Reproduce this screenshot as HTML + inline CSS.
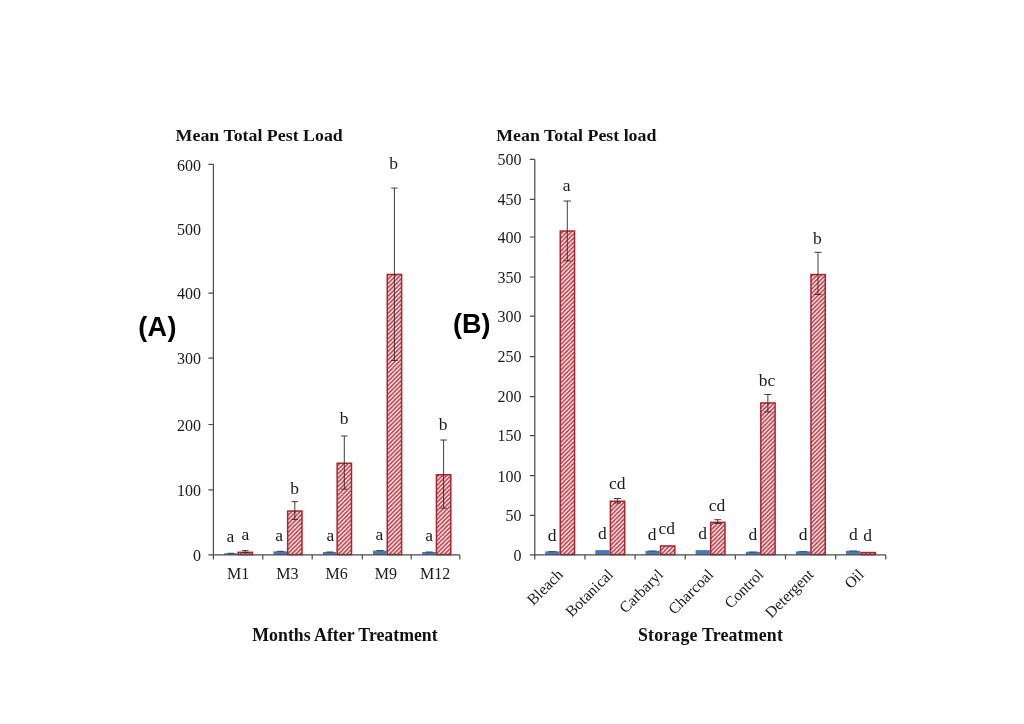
<!DOCTYPE html>
<html lang="en">
<head>
<meta charset="utf-8">
<title>Mean Total Pest Load</title>
<style>
html,body{margin:0;padding:0;background:#fff;}
body{width:1024px;height:724px;overflow:hidden;}
svg{display:block;filter:blur(0.35px);}
.s{font-family:"Liberation Serif",serif;font-size:16px;fill:#1a1a1a;}
.l{font-family:"Liberation Serif",serif;font-size:17.5px;fill:#1a1a1a;}
.t{font-family:"Liberation Serif",serif;font-weight:bold;font-size:17.8px;fill:#111;}
.p{font-family:"Liberation Sans",sans-serif;font-weight:bold;font-size:27px;letter-spacing:0.4px;fill:#000;}
.ax{stroke:#4a4a4a;stroke-width:1.2;fill:none;}
.eb{stroke:#2a2a2a;stroke-width:0.9;fill:none;}
.rb{fill:url(#h);stroke:#a92430;stroke-width:1.5;}
.bb{fill:#4a7ab5;}
</style>
</head>
<body>
<svg width="1024" height="724" viewBox="0 0 1024 724">
<defs>
<pattern id="h" width="4.25" height="4.25" patternUnits="userSpaceOnUse">
<rect width="4.25" height="4.25" fill="#fff3f3"/>
<path d="M-1,1 L1,-1 M0,4.25 L4.25,0 M3.25,5.25 L5.25,3.25" stroke="#bf3440" stroke-width="1.55"/>
</pattern>
</defs>
<rect width="1024" height="724" fill="#ffffff"/>

<!-- Chart A -->
<text class="t" transform="translate(175.6,140.6) scale(1.07,1)" style="font-size:16.7px">Mean Total Pest Load</text>
<text class="p" x="138.2" y="336.3">(A)</text>
<text class="s" x="200.9" y="561.1" text-anchor="end">0</text>
<text class="s" x="200.9" y="496.1" text-anchor="end">100</text>
<text class="s" x="200.9" y="430.7" text-anchor="end">200</text>
<text class="s" x="200.9" y="364.4" text-anchor="end">300</text>
<text class="s" x="200.9" y="299.4" text-anchor="end">400</text>
<text class="s" x="200.9" y="234.8" text-anchor="end">500</text>
<text class="s" x="200.9" y="170.5" text-anchor="end">600</text>
<rect class="bb" x="223.9" y="553.3" width="13.6" height="1.6"/>
<path class="eb" d="M227.4,553.3 H234.4"/>
<rect class="rb" x="238.15" y="552.35" width="14.35" height="2.2"/>
<path class="eb" d="M245.3,550.6 V552.6 M242.05,550.6 H248.55 M242.05,552.6 H248.55"/>
<rect class="bb" x="273.4" y="551.3" width="13.6" height="3.6"/>
<path class="eb" d="M276.9,551.3 H283.9"/>
<rect class="rb" x="287.65" y="511.05" width="14.35" height="43.5"/>
<path class="eb" d="M294.8,501.6 V519.5 M291.55,501.6 H298.05 M291.55,519.5 H298.05"/>
<rect class="bb" x="322.9" y="552" width="13.6" height="2.9"/>
<path class="eb" d="M326.4,552 H333.4"/>
<rect class="rb" x="337.15" y="463.25" width="14.35" height="91.3"/>
<path class="eb" d="M344.3,436 V489.2 M341.05,436 H347.55 M341.05,489.2 H347.55"/>
<rect class="bb" x="373" y="550.6" width="13.6" height="4.3"/>
<path class="eb" d="M376.5,550.6 H383.5"/>
<rect class="rb" x="387.25" y="274.45" width="14.35" height="280.1"/>
<path class="eb" d="M394.4,188.1 V360.5 M391.15,188.1 H397.65 M391.15,360.5 H397.65"/>
<rect class="bb" x="422.2" y="552" width="13.6" height="2.9"/>
<path class="eb" d="M425.7,552 H432.7"/>
<rect class="rb" x="436.45" y="474.75" width="14.35" height="79.8"/>
<path class="eb" d="M443.6,440 V508.2 M440.35,440 H446.85 M440.35,508.2 H446.85"/>
<path class="ax" d="M213.4,164.3 V559.5 M208.4,554.9 H459.8 M208.4,489.9 H213.4 M208.4,424.5 H213.4 M208.4,358.2 H213.4 M208.4,293.2 H213.4 M208.4,164.3 H213.4 M262.8,554.9 V559.5 M312.2,554.9 V559.5 M362.3,554.9 V559.5 M411.2,554.9 V559.5 M459.8,554.9 V559.5"/>
<text class="s" x="238.03" y="578.7" text-anchor="middle">M1</text>
<text class="s" x="287.29" y="578.7" text-anchor="middle">M3</text>
<text class="s" x="336.55" y="578.7" text-anchor="middle">M6</text>
<text class="s" x="385.81" y="578.7" text-anchor="middle">M9</text>
<text class="s" x="435.07" y="578.7" text-anchor="middle">M12</text>
<text class="l" x="230.3" y="541.8" text-anchor="middle">a</text>
<text class="l" x="245.3" y="540.2" text-anchor="middle">a</text>
<text class="l" x="279.2" y="541.3" text-anchor="middle">a</text>
<text class="l" x="294.7" y="494.1" text-anchor="middle">b</text>
<text class="l" x="330.5" y="541.3" text-anchor="middle">a</text>
<text class="l" x="344.2" y="423.6" text-anchor="middle">b</text>
<text class="l" x="379.5" y="540.2" text-anchor="middle">a</text>
<text class="l" x="393.6" y="169.4" text-anchor="middle">b</text>
<text class="l" x="429.2" y="541.3" text-anchor="middle">a</text>
<text class="l" x="443" y="430.3" text-anchor="middle">b</text>
<text class="t" x="345" y="641.2" text-anchor="middle">Months After Treatment</text>
<!-- Chart B -->
<text class="t" transform="translate(496.2,140.6) scale(1.07,1)" style="font-size:16.7px">Mean Total Pest load</text>
<text class="p" x="453" y="332.8" style="letter-spacing:0">(B)</text>
<text class="s" x="521.4" y="560.7" text-anchor="end">0</text>
<text class="s" x="521.4" y="521.2" text-anchor="end">50</text>
<text class="s" x="521.4" y="481.5" text-anchor="end">100</text>
<text class="s" x="521.4" y="441.4" text-anchor="end">150</text>
<text class="s" x="521.4" y="402.4" text-anchor="end">200</text>
<text class="s" x="521.4" y="362.4" text-anchor="end">250</text>
<text class="s" x="521.4" y="322" text-anchor="end">300</text>
<text class="s" x="521.4" y="282.8" text-anchor="end">350</text>
<text class="s" x="521.4" y="242.8" text-anchor="end">400</text>
<text class="s" x="521.4" y="205.1" text-anchor="end">450</text>
<text class="s" x="521.4" y="165.2" text-anchor="end">500</text>
<rect class="bb" x="545.2" y="551.4" width="14.2" height="3.5"/>
<path class="eb" style="stroke:#26344d;stroke-width:0.8" d="M548.3,551.6 H556.3"/>
<rect class="rb" x="560.25" y="231.05" width="14.3" height="323.5"/>
<path class="eb" d="M567.3,201 V260.9 M563.55,201 H571.05 M563.55,260.9 H571.05"/>
<rect class="bb" x="595.34" y="550.1" width="14.2" height="4.8"/>
<rect class="rb" x="610.39" y="501.25" width="14.3" height="53.3"/>
<path class="eb" d="M617.44,498.5 V503 M613.94,498.5 H620.94 M613.94,503 H620.94"/>
<rect class="bb" x="645.49" y="550.8" width="14.2" height="4.1"/>
<path class="eb" style="stroke:#26344d;stroke-width:0.8" d="M648.59,551 H656.59"/>
<rect class="rb" x="660.54" y="545.95" width="14.3" height="8.6"/>
<rect class="bb" x="695.63" y="550.1" width="14.2" height="4.8"/>
<rect class="rb" x="710.68" y="522.35" width="14.3" height="32.2"/>
<path class="eb" d="M717.73,519.7 V523.5 M714.23,519.7 H721.23 M714.23,523.5 H721.23"/>
<rect class="bb" x="745.77" y="551.8" width="14.2" height="3.1"/>
<path class="eb" style="stroke:#26344d;stroke-width:0.8" d="M748.87,552 H756.87"/>
<rect class="rb" x="760.82" y="402.95" width="14.3" height="151.6"/>
<path class="eb" d="M767.87,394.5 V411.9 M764.37,394.5 H771.37 M764.37,411.9 H771.37"/>
<rect class="bb" x="795.91" y="551.4" width="14.2" height="3.5"/>
<path class="eb" style="stroke:#26344d;stroke-width:0.8" d="M799.01,551.6 H807.01"/>
<rect class="rb" x="810.96" y="274.55" width="14.3" height="280"/>
<path class="eb" d="M818.01,252.3 V294.5 M814.51,252.3 H821.51 M814.51,294.5 H821.51"/>
<rect class="bb" x="846.06" y="550.8" width="14.2" height="4.1"/>
<path class="eb" style="stroke:#26344d;stroke-width:0.8" d="M849.16,551 H857.16"/>
<rect class="rb" x="861.11" y="552.55" width="14.3" height="2"/>
<path class="ax" d="M534.8,159.6 V559.5 M529.8,554.9 H885.8 M529.8,515.4 H534.8 M529.8,475.7 H534.8 M529.8,435.6 H534.8 M529.8,396.6 H534.8 M529.8,356.6 H534.8 M529.8,316.2 H534.8 M529.8,277 H534.8 M529.8,237 H534.8 M529.8,199.3 H534.8 M529.8,159.4 H534.8 M584.94,554.9 V559.5 M635.09,554.9 V559.5 M685.23,554.9 V559.5 M735.37,554.9 V559.5 M785.51,554.9 V559.5 M835.66,554.9 V559.5 M885.8,554.9 V559.5"/>
<text class="s" transform="translate(563.87,575.5) rotate(-45)" text-anchor="end" style="font-size:15.6px">Bleach</text>
<text class="s" transform="translate(614.01,575.5) rotate(-45)" text-anchor="end" style="font-size:15.6px">Botanical</text>
<text class="s" transform="translate(664.16,575.5) rotate(-45)" text-anchor="end" style="font-size:15.6px">Carbaryl</text>
<text class="s" transform="translate(714.3,575.5) rotate(-45)" text-anchor="end" style="font-size:15.6px">Charcoal</text>
<text class="s" transform="translate(764.44,575.5) rotate(-45)" text-anchor="end" style="font-size:15.6px">Control</text>
<text class="s" transform="translate(814.59,575.5) rotate(-45)" text-anchor="end" style="font-size:15.6px">Detergent</text>
<text class="s" transform="translate(864.73,575.5) rotate(-45)" text-anchor="end" style="font-size:15.6px">Oil</text>
<text class="l" x="552.1" y="540.5" text-anchor="middle">d</text>
<text class="l" x="566.6" y="190.7" text-anchor="middle">a</text>
<text class="l" x="602.4" y="539" text-anchor="middle">d</text>
<text class="l" x="617.2" y="489.2" text-anchor="middle">cd</text>
<text class="l" x="652" y="539.9" text-anchor="middle">d</text>
<text class="l" x="666.8" y="534.3" text-anchor="middle">cd</text>
<text class="l" x="702.6" y="539" text-anchor="middle">d</text>
<text class="l" x="716.9" y="510.8" text-anchor="middle">cd</text>
<text class="l" x="752.8" y="539.9" text-anchor="middle">d</text>
<text class="l" x="767.1" y="385.7" text-anchor="middle">bc</text>
<text class="l" x="803" y="539.9" text-anchor="middle">d</text>
<text class="l" x="817.3" y="243.5" text-anchor="middle">b</text>
<text class="l" x="853.3" y="539.5" text-anchor="middle">d</text>
<text class="l" x="867.7" y="540.9" text-anchor="middle">d</text>
<text class="t" x="710.5" y="641.2" text-anchor="middle" style="letter-spacing:0.2px">Storage Treatment</text>
</svg>
</body>
</html>
